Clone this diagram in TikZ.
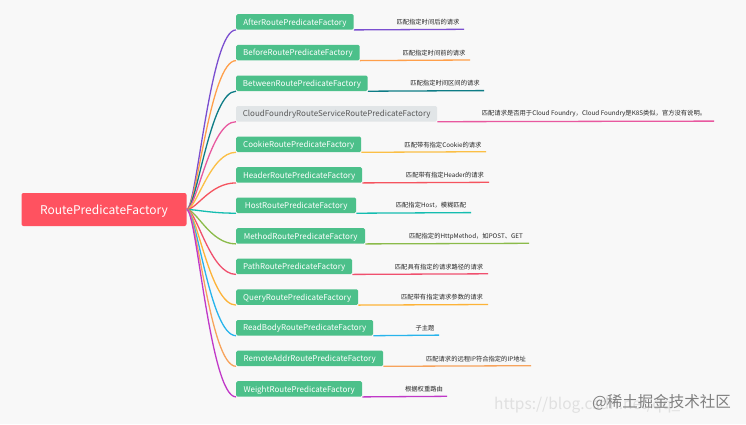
\documentclass[tikz,border=0pt]{standalone}
\usepackage{fontspec}
\setmainfont{Noto Sans CJK SC}
\newcommand{\branch}[9]{%
  % name, top y, right x, line end x, colour, box style, label, desc x centre, desc
  \node[#6,minimum width={#3-236},anchor=north west] (#1) at (236,#2) {#7};
  \node[desc] (#1d) at (#8,#2+8.2) {#9};
  \coordinate (#1e) at (#4,#2+15.3);
  \draw[branchline,#5] (root.east) .. controls +(10,0) and +(-26,0) .. (#1.south west);
  \draw[branchline,#5] (#1.south east) -- (#1e);
}
\definecolor{bgc}{HTML}{F8F8F8}
\definecolor{greenc}{HTML}{4CC08A}
\definecolor{greyc}{HTML}{E1E5E7}
\definecolor{rootc}{HTML}{FF5260}
\definecolor{c1}{HTML}{7B4FD0}
\definecolor{c2}{HTML}{FF9F4A}
\definecolor{c3}{HTML}{0E7C86}
\definecolor{c4}{HTML}{E8589F}
\definecolor{c5}{HTML}{FBBF45}
\definecolor{c6}{HTML}{F5545F}
\definecolor{c7}{HTML}{15BDB0}
\definecolor{c8}{HTML}{8BBB4A}
\definecolor{c9}{HTML}{F0506E}
\definecolor{c10}{HTML}{FDB338}
\definecolor{c11}{HTML}{28B4EC}
\definecolor{c12}{HTML}{F7A35C}
\definecolor{c13}{HTML}{C038C8}
\tikzset{
  x=1pt,y=-1pt,
  boxbase/.style={rounded corners=1.5pt,minimum height=15.5pt,inner sep=0pt,text height=7pt,text depth=0.6pt,font=\fontsize{8}{10}\selectfont},
  greenbox/.style={boxbase,fill=greenc,text=white},
  greybox/.style={boxbase,fill=greyc,text=black!65},
  rootbox/.style={rounded corners=2pt,fill=rootc,text=white,minimum width=165pt,minimum height=33pt,inner sep=0pt,text height=11pt,text depth=1pt,font=\fontsize{12}{14}\selectfont},
  desc/.style={inner sep=0pt,text=black!85,font=\fontsize{6.3}{7}\selectfont},
  branchline/.style={line width=1.3pt,line join=round},
  mark1/.style={inner sep=0pt,text=black!12,font=\fontsize{15.5}{17}\selectfont},
  mark2/.style={inner sep=0pt,text=black!50,font=\fontsize{15.5}{17}\selectfont},
}
\begin{document}
\begin{tikzpicture}
\useasboundingbox (0,0) rectangle (746,424);
\fill[bgc] (0,0) rectangle (746,424);
\node[rootbox] (root) at (104,209.5) {RoutePredicateFactory};
\branch{a}{14}{353.5}{464}{c1}{greenbox}{AfterRoutePredicateFactory}{428}{匹配指定时间后的请求}
\branch{b}{44.7}{359.5}{470}{c2}{greenbox}{BeforeRoutePredicateFactory}{434}{匹配指定时间前的请求}
\branch{c}{75.3}{367.5}{484}{c3}{greenbox}{BetweenRoutePredicateFactory}{445}{匹配指定时间区间的请求}
\branch{d}{105.8}{437}{714}{c4}{greybox}{CloudFoundryRouteServiceRoutePredicateFactory}{594}{匹配请求是否用于Cloud Foundry，Cloud Foundry是K8S类似，官方没有说明。}
\branch{e}{136.4}{361}{486}{c5}{greenbox}{CookieRoutePredicateFactory}{443}{匹配带有指定Cookie的请求}
\branch{f}{167}{362}{489}{c6}{greenbox}{HeaderRoutePredicateFactory}{445}{匹配带有指定Header的请求}
\branch{g}{197.3}{356}{471}{c7}{greenbox}{HostRoutePredicateFactory}{431}{匹配指定Host，模糊匹配}
\branch{h}{228}{365}{529}{c8}{greenbox}{MethodRoutePredicateFactory}{466}{匹配指定的HttpMethod，如POST、GET}
\branch{i}{258.5}{352}{488}{c9}{greenbox}{PathRoutePredicateFactory}{439}{匹配具有指定的请求路径的请求}
\branch{j}{289.2}{358}{488}{c10}{greenbox}{QueryRoutePredicateFactory}{442}{匹配带有指定请求参数的请求}
\branch{k}{319.8}{373}{439}{c11}{greenbox}{ReadBodyRoutePredicateFactory}{425}{子主题}
\branch{l}{350.4}{383}{531}{c12}{greenbox}{RemoteAddrRoutePredicateFactory}{476}{匹配请求的远程IP符合指定的IP地址}
\branch{m}{381}{362}{447}{c13}{greenbox}{WeightRoutePredicateFactory}{424}{根据权重路由}
\node[mark1,anchor=west] (wm1) at (494,405) {https://blog.csdn.net/qq\_};
\node[mark2,anchor=west] (wm2) at (592,402) {@稀土掘金技术社区};
\end{tikzpicture}
\end{document}
